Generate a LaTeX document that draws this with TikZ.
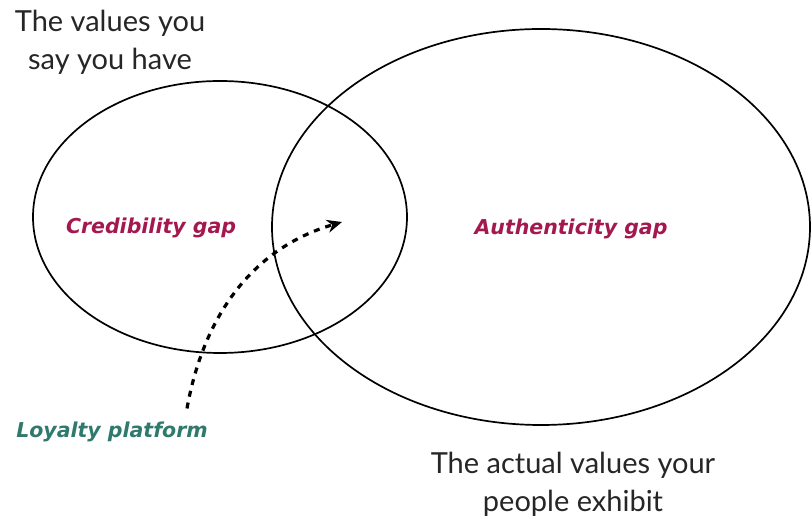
\documentclass[tikz,border=0pt]{standalone}
\usepackage{fontspec}
\setmainfont{Lato}
\newfontfamily\labelfont{DejaVu Sans}
\usepackage{tikz}
\usetikzlibrary{positioning, shapes, calc, arrows.meta}

\definecolor{gapred}{HTML}{A3184F}
\definecolor{loyalgreen}{HTML}{2F7A6C}

\begin{document}
\begin{tikzpicture}[x=1pt, y=1pt, >={Stealth[length=15pt,width=13pt]},
    valueset/.style={draw, ellipse, line width=1.7pt, inner sep=0pt},
    caption/.style={align=center, font=\fontsize{29}{38}\selectfont, text=black!85},
    gaplabel/.style={font=\labelfont\fontsize{20.5}{24}\selectfont\bfseries\itshape, text=gapred},
  ]
  \useasboundingbox (0,0) rectangle (812,519);

  % the two sets of values
  \node[valueset, minimum width=374pt, minimum height=272pt] (said) at (220,302) {};
  \node[valueset, minimum width=538pt, minimum height=396pt] (actual) at (541,292) {};

  \node[caption] (saidtxt) at (110,477) {The values you\\say you have};
  \node[caption] (actualtxt) at (573,35) {The actual values your\\people exhibit};

  \node[gaplabel] (cred) at (151,291) {Credibility gap};
  \node[gaplabel] (auth) at (571,290) {Authenticity gap};
  \node[gaplabel, text=loyalgreen] (loyalty) at (112,87) {Loyalty platform};

  % overlap the platform aims at
  \coordinate (target) at (342,297);
  \draw[->, line width=3.2pt, dash pattern=on 6pt off 6pt]
    ([xshift=75pt,yshift=10pt]loyalty.north) .. controls (203,200) and (250,270) .. (target);
\end{tikzpicture}
\end{document}
